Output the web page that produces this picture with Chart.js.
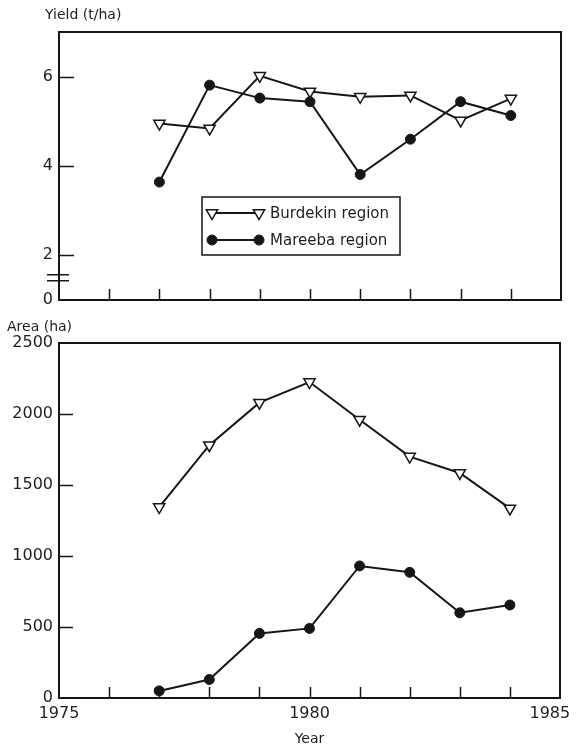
<!DOCTYPE html>
<html>
<head>
<meta charset="utf-8">
<title>Burdekin and Mareeba regions: yield and area, 1977-1984</title>
<script src="https://cdn.jsdelivr.net/npm/chart.js@4.4.1/dist/chart.umd.min.js"></script>
<style>
  html, body { margin: 0; padding: 0; background: #fff; }
  #wrap { position: relative; width: 576px; height: 752px; overflow: hidden; }
  .panel { position: absolute; left: 0; width: 576px; }
  #top { top: 0; height: 310px; }
  #bottom { top: 318px; height: 434px; }
</style>
</head>
<body>
<div id="wrap">
  <div class="panel" id="top"><canvas id="yieldChart" width="576" height="310"></canvas></div>
  <div class="panel" id="bottom"><canvas id="areaChart" width="576" height="434"></canvas></div>
</div>
<script>
// ---- data ----
const years = [1977, 1978, 1979, 1980, 1981, 1982, 1983, 1984];
const seriesNames = ['Burdekin region', 'Mareeba region'];

const burdekinYield = [4.95, 4.84, 6.02, 5.67, 5.55, 5.58, 5.02, 5.51];
const mareebaYield  = [3.64, 5.81, 5.52, 5.44, 3.81, 4.60, 5.44, 5.13];

const burdekinArea = [1345, 1780, 2080, 2225, 1960, 1700, 1585, 1335];
const mareebaArea  = [50, 130, 455, 490, 930, 885, 600, 655];

const yieldTicks = [0, 2, 4, 6];
const areaTicks = [0, 500, 1000, 1500, 2000, 2500];
const yearLabels = [1975, 1980, 1985];
const yearTicks = [1976, 1977, 1978, 1979, 1980, 1981, 1982, 1983, 1984];

// ---- styling ----
const INK = '#161616';
const TEXT = '#1e1e1e';
const FONT = "'DejaVu Sans', 'Liberation Sans', sans-serif";

// The yield axis is broken below 2 t/ha: the "0" tick sits one unit below 2.
const YIELD_ZERO_AT = 1;

const toPoints = (ys) => years.map((yr, i) => ({ x: yr, y: ys[i] }));

function makeDatasets(burdekin, mareeba) {
  return [
    {
      label: seriesNames[0],
      data: toPoints(burdekin),
      borderColor: INK, borderWidth: 2,
      pointStyle: 'triangle', pointRotation: 180, pointRadius: 6.5,
      pointBackgroundColor: '#fff', pointBorderColor: INK, pointBorderWidth: 1.5,
      pointHoverRadius: 6.5,
      order: 0
    },
    {
      label: seriesNames[1],
      data: toPoints(mareeba),
      borderColor: INK, borderWidth: 2,
      pointStyle: 'circle', pointRadius: 5,
      pointBackgroundColor: INK, pointBorderColor: INK, pointBorderWidth: 1,
      pointHoverRadius: 5,
      order: 1
    }
  ];
}

// Box frame, inward tick marks, optional axis-break marks and the axis caption
const framePlugin = {
  id: 'frame',
  beforeDatasetsDraw(chart, args, o) {
    const { ctx, chartArea: a, scales } = chart;
    ctx.save();
    ctx.strokeStyle = INK;
    ctx.lineWidth = 2;
    ctx.strokeRect(a.left, a.top, a.right - a.left, a.bottom - a.top);
    ctx.lineWidth = 1.5;
    ctx.beginPath();
    o.xTicks.forEach(v => {
      const px = Math.round(scales.x.getPixelForValue(v)) + 0.5;
      ctx.moveTo(px, a.bottom);
      ctx.lineTo(px, a.bottom - o.xTickLen);
    });
    o.yTicks.forEach(v => {
      const py = Math.round(scales.y.getPixelForValue(v)) + 0.5;
      ctx.moveTo(a.left, py);
      ctx.lineTo(a.left + o.yTickLen, py);
    });
    ctx.stroke();
    if (o.breakAt !== undefined) {
      const py = scales.y.getPixelForValue(o.breakAt);
      ctx.lineWidth = 1.5;
      ctx.beginPath();
      [-3, 3].forEach(d => {
        ctx.moveTo(a.left - 12, py + d);
        ctx.lineTo(a.left + 10, py + d);
      });
      ctx.stroke();
    }
    ctx.restore();
  },
  afterDraw(chart, args, o) {
    if (!o.title) return;
    const { ctx } = chart;
    ctx.save();
    ctx.fillStyle = TEXT;
    ctx.font = `14px ${FONT}`;
    ctx.textBaseline = 'middle';
    ctx.textAlign = 'left';
    ctx.fillText(o.title, o.titleX, o.titleY);
    ctx.restore();
  }
};

// Framed legend placed inside the plot area
const boxLegendPlugin = {
  id: 'boxLegend',
  afterDatasetsDraw(chart, args, o) {
    if (!o.show) return;
    const { ctx, chartArea: a } = chart;
    const x0 = a.left + o.left, y0 = a.top + o.top;
    ctx.save();
    ctx.fillStyle = '#fff';
    ctx.fillRect(x0, y0, o.width, o.height);
    ctx.strokeStyle = INK;
    ctx.lineWidth = 1.5;
    ctx.strokeRect(x0, y0, o.width, o.height);
    chart.data.datasets.forEach((ds, i) => {
      const y = y0 + o.rowTop + i * o.rowGap;
      const xa = x0 + o.sampleLeft, xb = xa + o.sampleWidth;
      ctx.strokeStyle = ds.borderColor;
      ctx.lineWidth = ds.borderWidth;
      ctx.beginPath();
      ctx.moveTo(xa, y);
      ctx.lineTo(xb, y);
      ctx.stroke();
      const style = { pointStyle: ds.pointStyle, rotation: ds.pointRotation || 0, radius: ds.pointRadius, borderWidth: ds.pointBorderWidth };
      ctx.fillStyle = ds.pointBackgroundColor;
      ctx.strokeStyle = ds.pointBorderColor;
      ctx.lineWidth = ds.pointBorderWidth;
      Chart.helpers.drawPoint(ctx, style, xa, y);
      Chart.helpers.drawPoint(ctx, style, xb, y);
      ctx.fillStyle = TEXT;
      ctx.font = `15px ${FONT}`;
      ctx.textBaseline = 'middle';
      ctx.textAlign = 'left';
      ctx.fillText(ds.label, x0 + o.textLeft, y + 1);
    });
    ctx.restore();
  }
};

Chart.register(framePlugin, boxLegendPlugin);

const tickFont = { family: FONT, size: 16 };

// keep the plot box fixed: no extra room reserved for overhanging labels
const fixWidth = (w) => (s) => { s.width = w; s.paddingTop = 0; s.paddingBottom = 0; };
const fixHeight = (h) => (s) => { s.height = h; s.paddingLeft = 0; s.paddingRight = 0; };

// the last year label sits at the canvas edge; pad it so it stays readable
const yearLabel = (v) => (v === yearLabels[yearLabels.length - 1] ? String(v) + '\u2007\u2007' : String(v));

// ---- yield panel ----
new Chart(document.getElementById('yieldChart'), {
  type: 'line',
  data: { datasets: makeDatasets(burdekinYield, mareebaYield) },
  options: {
    responsive: false,
    animation: false,
    layout: { padding: { top: 32, right: 15, bottom: 10, left: 0 } },
    scales: {
      x: {
        type: 'linear', min: 1975, max: 1985,
        display: false
      },
      y: {
        type: 'linear', min: YIELD_ZERO_AT, max: 7,
        grid: { display: false, drawTicks: false },
        border: { display: false },
        afterBuildTicks: (s) => { s.ticks = yieldTicks.map(v => ({ value: v === 0 ? YIELD_ZERO_AT : v })); },
        afterFit: fixWidth(59),
        ticks: {
          color: TEXT, font: tickFont, padding: 6,
          callback: (v) => (v === YIELD_ZERO_AT ? '0' : String(v))
        }
      }
    },
    plugins: {
      legend: { display: false },
      tooltip: { enabled: false },
      frame: {
        xTicks: yearTicks, xTickLen: 11,
        yTicks: yieldTicks.filter(v => v > 0), yTickLen: 15,
        breakAt: (YIELD_ZERO_AT + yieldTicks[1]) / 2,
        title: 'Yield (t/ha)', titleX: 45, titleY: 15
      },
      boxLegend: {
        show: true, left: 143, top: 165, width: 198, height: 58,
        rowTop: 16, rowGap: 27, sampleLeft: 10, sampleWidth: 47, textLeft: 68
      }
    }
  }
});

// ---- area panel ----
new Chart(document.getElementById('areaChart'), {
  type: 'line',
  data: { datasets: makeDatasets(burdekinArea, mareebaArea) },
  options: {
    responsive: false,
    animation: false,
    layout: { padding: { top: 25, right: 16, bottom: 0, left: 0 } },
    scales: {
      x: {
        type: 'linear', min: 1975, max: 1985,
        grid: { display: false, drawTicks: false },
        border: { display: false },
        afterBuildTicks: (s) => { s.ticks = yearLabels.map(v => ({ value: v })); },
        afterFit: fixHeight(54),
        ticks: { color: TEXT, font: tickFont, padding: 6, maxRotation: 0, autoSkip: false, callback: yearLabel },
        title: { display: true, text: 'Year', color: TEXT, font: { family: FONT, size: 14 }, padding: { top: 0, bottom: 4 } }
      },
      y: {
        type: 'linear', min: 0, max: 2500,
        grid: { display: false, drawTicks: false },
        border: { display: false },
        afterBuildTicks: (s) => { s.ticks = areaTicks.map(v => ({ value: v })); },
        afterFit: fixWidth(59),
        ticks: { color: TEXT, font: tickFont, padding: 6, callback: (v) => String(v) }
      }
    },
    plugins: {
      legend: { display: false },
      tooltip: { enabled: false },
      frame: {
        xTicks: yearTicks, xTickLen: 11,
        yTicks: areaTicks.filter(v => v > 0 && v < 2500), yTickLen: 14,
        title: 'Area (ha)', titleX: 7, titleY: 9
      },
      boxLegend: { show: false }
    }
  }
});
</script>
</body>
</html>
